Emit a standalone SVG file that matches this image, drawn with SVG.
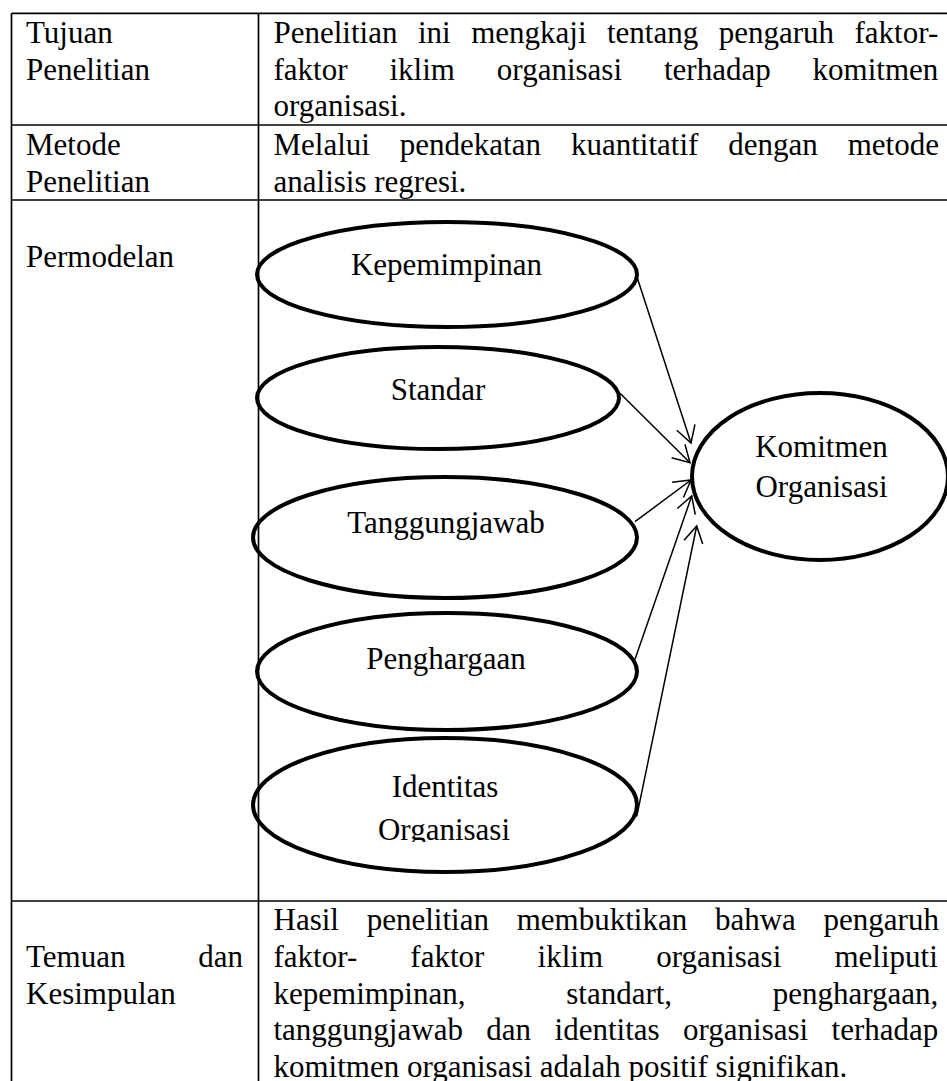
<svg xmlns="http://www.w3.org/2000/svg" width="947" height="1081" viewBox="0 0 947 1081">
<style>
  text { font-family: "Liberation Serif", "Times New Roman", serif; font-size: 31px; fill: #000; }
  .c { text-anchor: middle; }
  .grid { stroke: #000; stroke-width: 1.7; fill: none; }
  .node { fill: none; stroke: #000; stroke-width: 4; }
  .edge { stroke: #000; stroke-width: 1.5; fill: none; marker-end: url(#arr); }
</style>
<defs>
  <marker id="arr" markerUnits="userSpaceOnUse" markerWidth="40" markerHeight="40" viewBox="-20 -20 40 40" refX="0" refY="0" orient="auto" overflow="visible">
    <path d="M-16.5,-9.5 L0,0 L-16.5,9.5" fill="none" stroke="#000" stroke-width="1.5"/>
  </marker>
  <clipPath id="clipIdent"><rect x="250" y="730" width="400" height="112"/></clipPath>
</defs>
<rect width="947" height="1081" fill="#fff"/>

<g id="table">
  <line class="grid" x1="11.5" y1="13.3" x2="947" y2="13.3"/>
  <line class="grid" x1="11.5" y1="13.3" x2="11.5" y2="1081"/>
  <line class="grid" x1="258.5" y1="13.3" x2="258.5" y2="1081"/>
  <line class="grid" x1="11.5" y1="125" x2="947" y2="125"/>
  <line class="grid" x1="11.5" y1="200" x2="947" y2="200"/>
  <line class="grid" x1="11.5" y1="901" x2="947" y2="901"/>
</g>

<g id="row-tujuan">
  <text x="26" y="43">Tujuan</text>
  <text x="26" y="79.5">Penelitian</text>
  <text x="273.5" y="43" style="word-spacing:12.73px">Penelitian ini mengkaji tentang pengaruh faktor-</text>
  <text x="273.5" y="79.5" style="word-spacing:34.2px">faktor iklim organisasi terhadap komitmen</text>
  <text x="273.5" y="115.5">organisasi.</text>
</g>

<g id="row-metode">
  <text x="26" y="155">Metode</text>
  <text x="26" y="191.5">Penelitian</text>
  <text x="273.5" y="155" style="word-spacing:22.17px">Melalui pendekatan kuantitatif dengan metode</text>
  <text x="273.5" y="191.5">analisis regresi.</text>
</g>

<g id="row-permodelan">
  <text x="26" y="267">Permodelan</text>
</g>

<g id="node-kepemimpinan">
  <ellipse class="node" cx="447" cy="274.5" rx="190" ry="52.5"/>
  <text class="c" x="446.5" y="275">Kepemimpinan</text>
</g>
<g id="node-standar">
  <ellipse class="node" cx="438" cy="398" rx="181" ry="51"/>
  <text class="c" x="438" y="400">Standar</text>
</g>
<g id="node-tanggungjawab">
  <ellipse class="node" cx="445" cy="537.5" rx="192" ry="60.5"/>
  <text class="c" x="446" y="533">Tanggungjawab</text>
</g>
<g id="node-penghargaan">
  <ellipse class="node" cx="447" cy="671.5" rx="190" ry="58.5"/>
  <text class="c" x="446" y="669">Penghargaan</text>
</g>
<g id="node-identitas">
  <ellipse class="node" cx="445" cy="805" rx="192" ry="67"/>
  <g clip-path="url(#clipIdent)">
    <text class="c" x="445" y="797">Identitas</text>
    <text class="c" x="444" y="839.5">Organisasi</text>
  </g>
</g>
<g id="node-komitmen">
  <ellipse class="node" cx="820" cy="476.5" rx="128" ry="83.5"/>
  <text class="c" x="821.5" y="456.5">Komitmen</text>
  <text class="c" x="821.5" y="496.5">Organisasi</text>
</g>

<g id="connectors">
  <line class="edge" x1="637" y1="277" x2="691" y2="443"/>
  <line class="edge" x1="620" y1="393.3" x2="690" y2="462.7"/>
  <line class="edge" x1="635" y1="521.7" x2="691" y2="480"/>
  <line class="edge" x1="635" y1="659.3" x2="691.7" y2="496"/>
  <line class="edge" x1="636.7" y1="816.7" x2="696.7" y2="526"/>
</g>

<g id="row-temuan">
  <text x="26" y="967">Temuan</text>
  <text x="243" y="967" text-anchor="end">dan</text>
  <text x="26" y="1003.5">Kesimpulan</text>
  <text x="273.5" y="930" style="word-spacing:20px">Hasil penelitian membuktikan bahwa pengaruh</text>
  <text x="273.5" y="967" style="word-spacing:45.4px">faktor- faktor iklim organisasi meliputi</text>
  <text x="273.5" y="1003.5" style="word-spacing:92.98px">kepemimpinan, standart, penghargaan,</text>
  <text x="273.5" y="1040" style="word-spacing:15.7px">tanggungjawab dan identitas organisasi terhadap</text>
  <text x="273.5" y="1077">komitmen organisasi adalah positif signifikan.</text>
</g>
</svg>
